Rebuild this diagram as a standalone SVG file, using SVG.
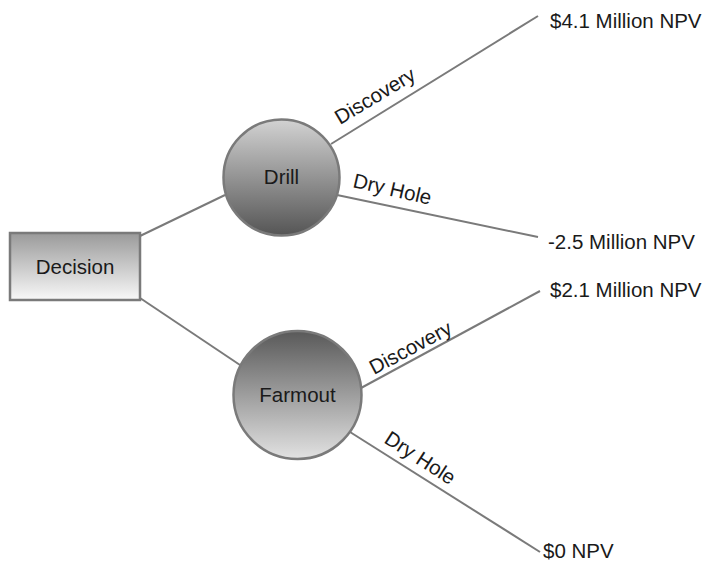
<svg xmlns="http://www.w3.org/2000/svg" width="707" height="561" viewBox="0 0 707 561">
  <defs>
    <linearGradient id="gBox" x1="0" y1="0" x2="0" y2="1">
      <stop offset="0" stop-color="#9a9a9a"/>
      <stop offset="1" stop-color="#f8f8f8"/>
    </linearGradient>
    <linearGradient id="gDown" x1="0" y1="0" x2="0" y2="1">
      <stop offset="0" stop-color="#d2d2d2"/>
      <stop offset="1" stop-color="#555555"/>
    </linearGradient>
    <linearGradient id="gUp" x1="0" y1="0" x2="0" y2="1">
      <stop offset="0" stop-color="#595959"/>
      <stop offset="1" stop-color="#e2e2e2"/>
    </linearGradient>
  </defs>
  <style>
    .edge { stroke: #7a7a7a; stroke-width: 2; fill: none; }
    .shape { stroke: #7a7a7a; stroke-width: 2.5; }
    text { font-family: "Liberation Sans", Arial, Helvetica, sans-serif; font-size: 20.5px; fill: #1a1a1a; }
    .mid { text-anchor: middle; }
  </style>
  <rect width="707" height="561" fill="#ffffff"/>

  <g id="connectors">
    <line class="edge" x1="140" y1="236" x2="225" y2="195"/>
    <line class="edge" x1="140" y1="298" x2="243" y2="367"/>
    <line class="edge" x1="331" y1="144" x2="538" y2="16"/>
    <line class="edge" x1="337" y1="195" x2="538" y2="237"/>
    <line class="edge" x1="361" y1="388" x2="540" y2="291"/>
    <line class="edge" x1="350" y1="432" x2="540" y2="552"/>
    <text transform="translate(340,125) rotate(-31)">Discovery</text>
    <text transform="translate(352,187) rotate(13)">Dry Hole</text>
    <text transform="translate(374,375) rotate(-28)">Discovery</text>
    <text transform="translate(383,442) rotate(33)">Dry Hole</text>
  </g>

  <g id="decision">
    <rect class="shape" x="10" y="233" width="130" height="67" fill="url(#gBox)"/>
    <text class="mid" x="75" y="274">Decision</text>
  </g>

  <g id="drill">
    <circle class="shape" cx="281.5" cy="177.5" r="58" fill="url(#gDown)"/>
    <text class="mid" x="281.5" y="184">Drill</text>
  </g>

  <g id="farmout">
    <circle class="shape" cx="297.5" cy="395" r="64" fill="url(#gUp)"/>
    <text class="mid" x="297.5" y="402">Farmout</text>
  </g>

  <g id="outcome-drill-discovery">
    <text x="550" y="28">$4.1 Million NPV</text>
  </g>
  <g id="outcome-drill-dryhole">
    <text x="548" y="249">-2.5 Million NPV</text>
  </g>
  <g id="outcome-farmout-discovery">
    <text x="550" y="297">$2.1 Million NPV</text>
  </g>
  <g id="outcome-farmout-dryhole">
    <text x="543" y="558">$0 NPV</text>
  </g>
</svg>
